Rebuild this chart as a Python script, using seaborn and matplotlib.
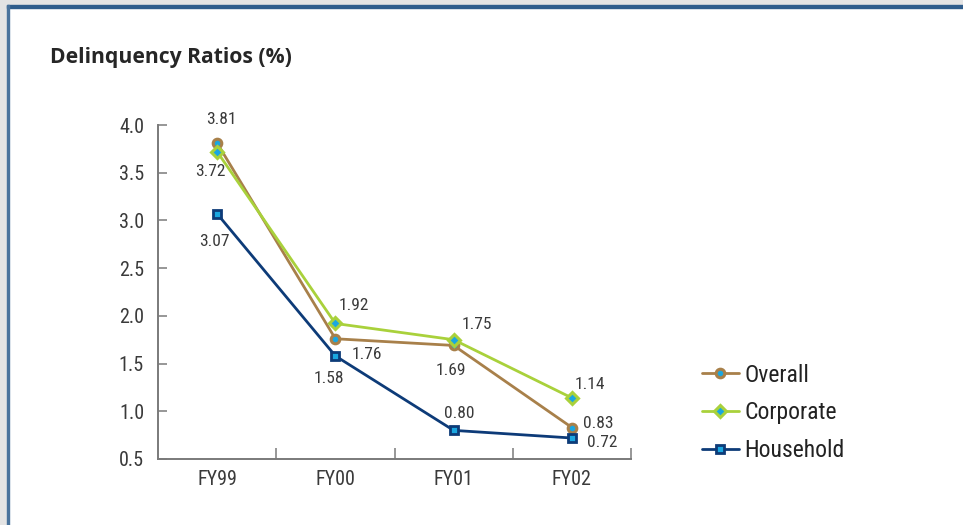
import matplotlib
matplotlib.use("Agg")
import matplotlib.pyplot as plt
from matplotlib.patches import Rectangle
import pandas as pd
import seaborn as sns

# Fiscal years and delinquency ratios (%)
years = ["FY99", "FY00", "FY01", "FY02"]
overall = [3.81, 1.76, 1.69, 0.83]
corporate = [3.72, 1.92, 1.75, 1.14]
household = [3.07, 1.58, 0.80, 0.72]
series_names = ["Overall", "Corporate", "Household"]
y_ticks = [0.5, 1.0, 1.5, 2.0, 2.5, 3.0, 3.5, 4.0]

sns.set_theme(style="white")
narrow = ["Roboto Condensed", "IBM Plex Sans Condensed", "DejaVu Sans"]
plt.rcParams["font.family"] = narrow

W, H = 963, 525
fig = plt.figure(figsize=(W / 100, H / 100), dpi=100)
fig.patch.set_facecolor("white")

# page frame: grey margin with a blue rule along top and left
fig.patches.append(Rectangle((0, 1 - 5 / H), 1, 5 / H, transform=fig.transFigure,
                             color="#e4e4e4", zorder=0))
fig.patches.append(Rectangle((0, 0), 7 / W, 1, transform=fig.transFigure,
                             color="#e4e4e4", zorder=0))
fig.patches.append(Rectangle((7 / W, 1 - 7.5 / H), 1, 2.5 / H, transform=fig.transFigure,
                             color="#2f5d8c", zorder=1))
fig.patches.append(Rectangle((7 / W, 0), 1.5 / W, 1 - 5 / H, transform=fig.transFigure,
                             color="#4a739c", zorder=1))

ax = fig.add_axes([158 / W, 1 - 459 / H, (631 - 158) / W, (459 - 125) / H])
ax.set_facecolor("white")

df = pd.DataFrame({"Year": years, "Overall": overall,
                   "Corporate": corporate, "Household": household})
df["pos"] = range(len(years))

cyan = "#1aa7e0"
styles = {
    "Overall": dict(color="#a8804a", marker="o", ms=6.2, mew=2.2),
    "Corporate": dict(color="#a9d13b", marker="D", ms=5.8, mew=2.2),
    "Household": dict(color="#0d3b78", marker="s", ms=5.2, mew=2.0),
}
for name in series_names:
    st = styles[name]
    sns.lineplot(data=df, x="pos", y=name, ax=ax, label=name, color=st["color"],
                 marker=st["marker"], ms=st["ms"], mew=st["mew"], mec=st["color"],
                 mfc=cyan, lw=2.0, legend=False)

# value labels (offsets in points from each marker)
offsets = {
    "Overall": [(3, 17), (23, -11), (-2, -18), (19, 3)],
    "Corporate": [(-5, -14), (13, 13), (17, 11), (13, 10)],
    "Household": [(-2, -20), (-5, -16), (4, 12), (22, -3)],
}
for name, vals in zip(series_names, [overall, corporate, household]):
    for i, v in enumerate(vals):
        ax.annotate(f"{v:.2f}", (i, v), xytext=offsets[name][i], textcoords="offset points",
                    ha="center", va="center", fontsize=12.5, color="#3a3a3a", family=narrow)

ax.set_xlim(-0.5, 3.5)
ax.set_ylim(0.5, 4.0)
ax.set_yticks(y_ticks)
ax.set_yticklabels([f"{t:.1f}" for t in y_ticks])
ax.set_xticks(range(len(years)))
ax.set_xticklabels(years)
ax.set_xticks([0.5, 1.5, 2.5, 3.5], minor=True)
ax.set_xlabel("")
ax.set_ylabel("")

for side in ["top", "right"]:
    ax.spines[side].set_visible(False)
for side in ["left", "bottom"]:
    ax.spines[side].set_color("#7a7a7a")
    ax.spines[side].set_linewidth(1.4)

ax.tick_params(axis="y", which="major", direction="in", length=6.5, width=1.1,
               color="#7a7a7a", pad=10, labelsize=14.5, labelcolor="#3a3a3a", left=True)
ax.tick_params(axis="x", which="major", length=0, pad=8, labelsize=14.5, labelcolor="#3a3a3a")
ax.tick_params(axis="x", which="minor", direction="in", length=8, width=1.1,
               color="#7a7a7a", bottom=True)

handles, labels = ax.get_legend_handles_labels()
leg = fig.legend(handles, labels, loc="center left",
                 bbox_to_anchor=(702 / W, 1 - 413 / H), frameon=False,
                 fontsize=17, handlelength=1.55, handletextpad=0.25,
                 labelspacing=0.63, borderpad=0, borderaxespad=0)
for t in leg.get_texts():
    t.set_color("#222222")

fig.text(50 / W, 1 - 63 / H, "Delinquency Ratios (%)", ha="left", va="baseline",
         fontsize=15.2, fontweight="bold", color="#262626",
         family=["Open Sans", "DejaVu Sans"])

fig.savefig("out.png", dpi=100, facecolor="white")
